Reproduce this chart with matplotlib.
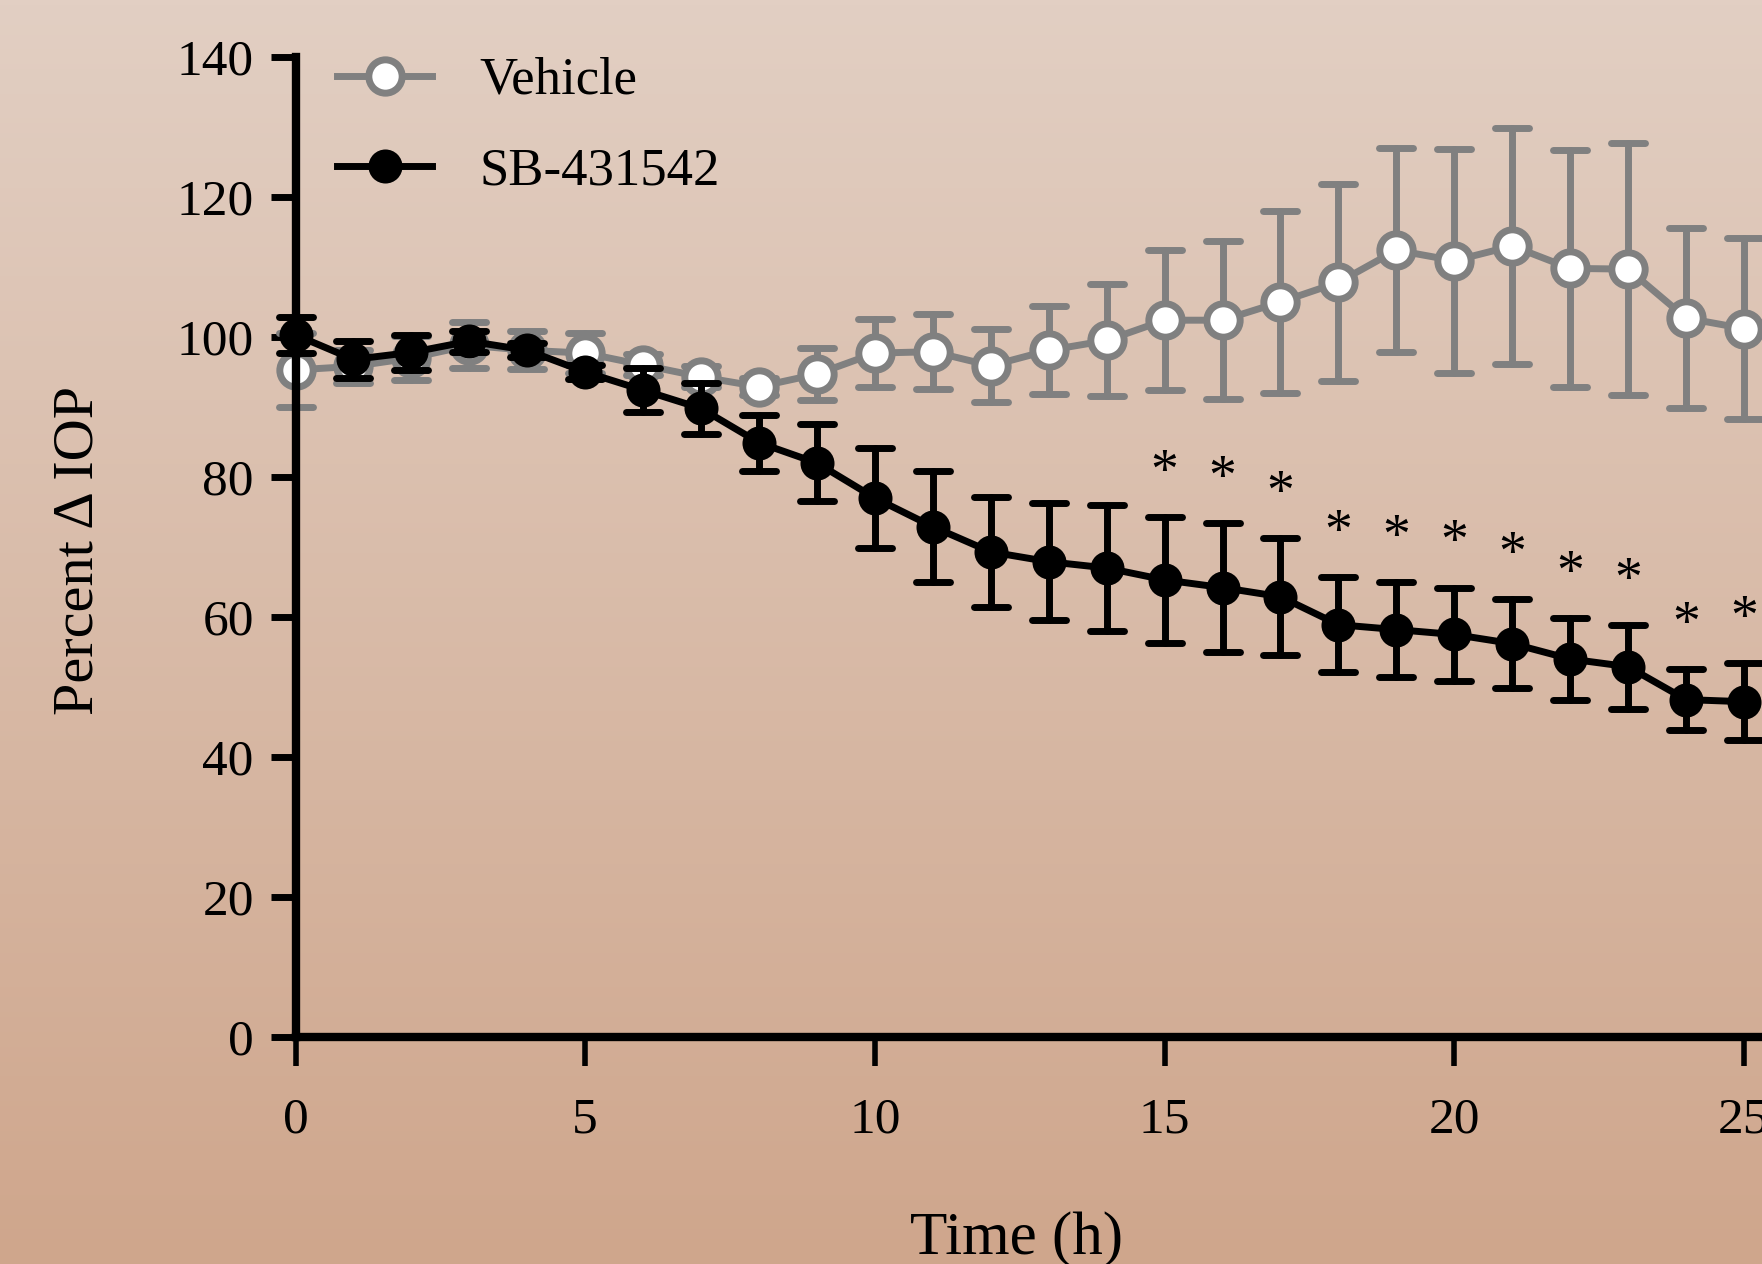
import matplotlib
matplotlib.use("Agg")
import matplotlib.pyplot as plt
from matplotlib.markers import MarkerStyle
import numpy as np

# data
hours = list(range(26))
vehicle_mean = [95.3, 95.8, 97.0, 98.8, 98.1, 97.7, 96.0, 94.3, 92.9, 94.7,
                97.7, 97.9, 95.9, 98.1, 99.5, 102.4, 102.4, 105.0, 107.8, 112.4,
                110.9, 113.0, 109.8, 109.7, 102.7, 101.2]
vehicle_sem = [5.3, 2.4, 3.2, 3.3, 2.7, 2.8, 1.5, 1.5, 1.2, 3.7,
               4.9, 5.4, 5.2, 6.3, 8.0, 10.0, 11.3, 13.0, 14.1, 14.6,
               16.0, 16.9, 16.9, 18.0, 12.9, 12.9]
sb_mean = [100.3, 96.8, 97.8, 99.4, 98.1, 95.0, 92.4, 89.8, 84.9, 82.0,
           77.0, 72.9, 69.3, 67.9, 67.0, 65.3, 64.2, 62.9, 58.9, 58.2,
           57.5, 56.2, 54.0, 52.9, 48.2, 47.9]
sb_sem = [2.6, 2.6, 2.5, 1.5, 1.0, 1.0, 3.1, 3.6, 4.0, 5.5,
          7.2, 7.9, 7.9, 8.4, 9.0, 9.0, 9.2, 8.4, 6.8, 6.8,
          6.7, 6.4, 5.8, 6.0, 4.4, 5.5]
signif_hours = [15, 16, 17, 18, 19, 20, 21, 22, 23, 24, 25]
x_ticks = [0, 5, 10, 15, 20, 25]
y_ticks = [0, 20, 40, 60, 80, 100, 120, 140]

plt.rcParams['font.family'] = ['Liberation Serif', 'DejaVu Serif']

W, H = 1762, 1264
fig = plt.figure(figsize=(W / 100, H / 100), dpi=100)
fig.patch.set_alpha(0)

# gradient background
bg = fig.add_axes([0, 0, 1, 1], zorder=-10)
top = np.array([226, 207, 195]) / 255
bot = np.array([207, 166, 140]) / 255
t = np.linspace(0, 1, 256)[:, None]
grad = top[None, :] * (1 - t) + bot[None, :] * t
bg.imshow(grad[:, None, :], aspect='auto', extent=[0, 1, 0, 1])
bg.axis('off')

x0, y0, y140 = 295.5, 1037, 57
ax = fig.add_axes([x0 / W, (H - y0) / H, 1 - x0 / W, (y0 - y140) / H])
ax.set_facecolor('none')
ax.set_xlim(0, (W - x0) / 57.94)
ax.set_ylim(0, 140)

gray = '#808080'
cap_round = MarkerStyle('_', capstyle='round')


def draw(mean, sem, color, face, label):
    eb = ax.errorbar(hours, mean, yerr=sem, fmt='none', ecolor=color,
                     elinewidth=5, capsize=12.5, capthick=5, clip_on=False)
    for cap in eb[1]:
        cap.set_marker(cap_round)
    for col in eb[2]:
        col.set_capstyle('round')
    ax.plot(hours, mean, color=color, lw=5, marker='o', ms=24 if face == 'white' else 24.5,
            mfc=face, mec=color, mew=5 if face == 'white' else 0,
            clip_on=False, label=label)


draw(vehicle_mean, vehicle_sem, gray, 'white', 'Vehicle')
draw(sb_mean, sb_sem, 'black', 'black', 'SB-431542')

for h in signif_hours:
    ax.annotate('*', xy=(h, sb_mean[h] + sb_sem[h]), xytext=(0, 21),
                textcoords='offset points', ha='center', va='baseline',
                fontsize=40, annotation_clip=False)

for s in ['top', 'right']:
    ax.spines[s].set_visible(False)
ax.spines['left'].set_linewidth(6)
ax.spines['bottom'].set_linewidth(6)
ax.spines['left'].set_bounds(0, 140)

ax.set_xticks(x_ticks)
ax.set_yticks(y_ticks)
ax.tick_params(axis='x', length=21, width=4, pad=22, labelsize=37)
ax.tick_params(axis='y', length=18, width=5, pad=12, labelsize=37)

fig.text(79 / W, 1 - 550 / H, 'Percent Δ IOP', rotation=90, ha='center',
         va='center', fontsize=42)
fig.text(1017 / W, 1 - 1211 / H, 'Time (h)', ha='center', va='top', fontsize=44)

ax.legend(loc='upper left', bbox_to_anchor=(337 / W, 1 - 57 / H),
          bbox_transform=fig.transFigure, frameon=False, fontsize=38,
          handlelength=1.8, handletextpad=0.9, labelspacing=0.8,
          borderpad=0, borderaxespad=0)

fig.savefig('out.png', dpi=100)
